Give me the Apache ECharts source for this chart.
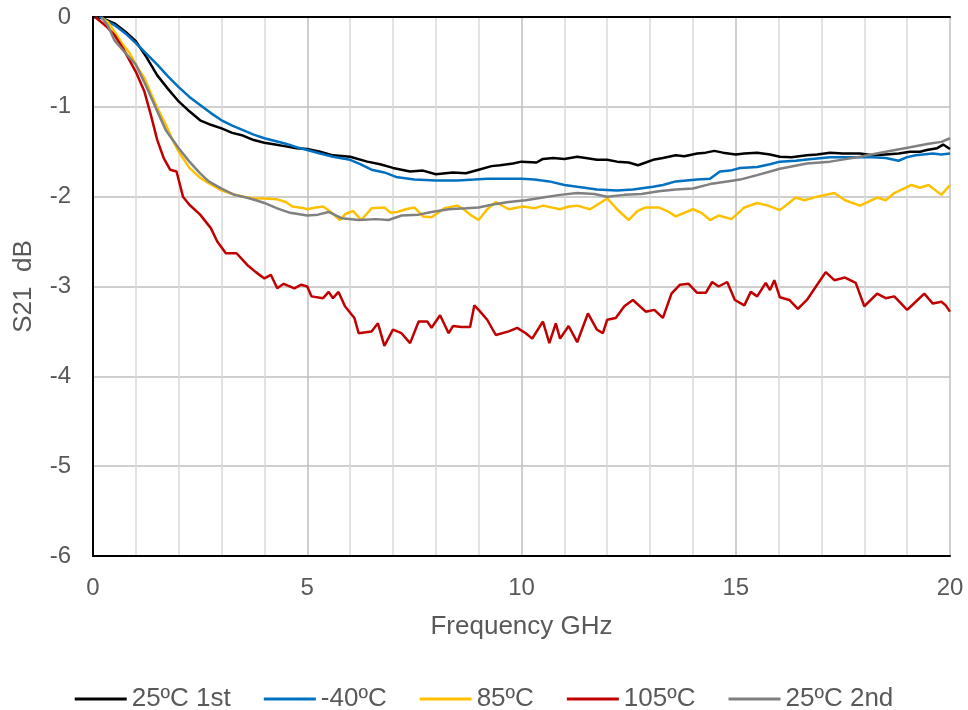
<!DOCTYPE html>
<html>
<head>
<meta charset="utf-8">
<script src="https://cdn.jsdelivr.net/npm/echarts@6/dist/echarts.min.js"></script>
<style>
  html, body { margin: 0; padding: 0; background: #fff; }
  #chart { width: 968px; height: 710px; }
</style>
</head>
<body>
<div id="chart"></div>
<script>
// S21 vs frequency, [GHz, dB] pairs
var names = ['25ºC 1st', '-40ºC', '85ºC', '105ºC', '25ºC 2nd'];
var colors = ['#000000', '#0070C0', '#FFC000', '#C00000', '#808080'];

var s25first = [[0,0],[0.2,-0.01],[0.5,-0.07],[0.75,-0.16],[1,-0.27],[1.25,-0.45],[1.5,-0.65],[1.75,-0.8],[2,-0.94],[2.25,-1.05],[2.5,-1.15],[2.75,-1.2],[3,-1.24],[3.25,-1.29],[3.5,-1.32],[3.75,-1.37],[4,-1.40],[4.25,-1.42],[4.5,-1.44],[4.75,-1.46],[5,-1.47],[5.3,-1.50],[5.6,-1.54],[6,-1.555],[6.4,-1.61],[6.7,-1.64],[7,-1.68],[7.4,-1.72],[7.7,-1.71],[8,-1.75],[8.4,-1.73],[8.7,-1.74],[9,-1.70],[9.3,-1.66],[9.5,-1.65],[9.8,-1.63],[10,-1.61],[10.35,-1.62],[10.5,-1.58],[10.74,-1.57],[11,-1.58],[11.3,-1.555],[11.5,-1.57],[11.76,-1.59],[12,-1.59],[12.23,-1.61],[12.5,-1.62],[12.72,-1.65],[12.9,-1.62],[13.07,-1.59],[13.3,-1.57],[13.6,-1.54],[13.8,-1.55],[14.1,-1.52],[14.3,-1.51],[14.5,-1.49],[14.7,-1.51],[15,-1.53],[15.2,-1.52],[15.5,-1.51],[15.8,-1.53],[16.03,-1.555],[16.3,-1.56],[16.66,-1.54],[16.9,-1.53],[17.2,-1.51],[17.5,-1.52],[17.9,-1.52],[18.2,-1.54],[18.5,-1.53],[18.8,-1.52],[19.07,-1.50],[19.3,-1.50],[19.46,-1.48],[19.7,-1.46],[19.84,-1.42],[20,-1.47]];

var sMinus40 = [[0.15,0],[0.5,-0.09],[0.75,-0.18],[1,-0.29],[1.25,-0.41],[1.5,-0.53],[1.75,-0.66],[2,-0.78],[2.25,-0.89],[2.5,-0.98],[2.75,-1.07],[3,-1.15],[3.25,-1.21],[3.5,-1.26],[3.75,-1.31],[4,-1.35],[4.25,-1.38],[4.5,-1.41],[4.75,-1.45],[5,-1.48],[5.3,-1.52],[5.6,-1.555],[6,-1.59],[6.25,-1.64],[6.5,-1.70],[6.8,-1.73],[7.07,-1.78],[7.5,-1.81],[8,-1.82],[8.5,-1.82],[8.9,-1.81],[9.2,-1.80],[9.5,-1.80],[10,-1.80],[10.3,-1.81],[10.65,-1.83],[11,-1.87],[11.3,-1.89],[11.76,-1.92],[12.23,-1.93],[12.6,-1.92],[13.07,-1.89],[13.3,-1.87],[13.6,-1.83],[14.1,-1.81],[14.4,-1.80],[14.63,-1.72],[14.87,-1.71],[15.1,-1.68],[15.5,-1.67],[15.8,-1.64],[16.03,-1.61],[16.4,-1.60],[16.66,-1.585],[17.2,-1.56],[17.6,-1.56],[17.9,-1.56],[18.2,-1.56],[18.5,-1.57],[18.8,-1.60],[19.0,-1.56],[19.2,-1.54],[19.6,-1.52],[19.8,-1.53],[20,-1.52]];

var s85 = [[0.2,-0.01],[0.35,-0.06],[0.5,-0.16],[0.7,-0.31],[0.85,-0.40],[1,-0.53],[1.2,-0.68],[1.35,-0.85],[1.5,-1.01],[1.7,-1.20],[1.85,-1.36],[2,-1.50],[2.25,-1.68],[2.5,-1.79],[2.7,-1.85],[3,-1.93],[3.25,-1.97],[3.5,-2.0],[3.75,-2.02],[4,-2.02],[4.3,-2.03],[4.5,-2.06],[4.65,-2.11],[4.93,-2.13],[5.0,-2.14],[5.2,-2.12],[5.37,-2.11],[5.55,-2.17],[5.76,-2.26],[5.9,-2.19],[6.07,-2.16],[6.26,-2.26],[6.5,-2.13],[6.8,-2.12],[6.95,-2.18],[7.1,-2.17],[7.3,-2.14],[7.5,-2.12],[7.7,-2.22],[7.9,-2.23],[8.2,-2.13],[8.5,-2.10],[8.65,-2.14],[8.8,-2.20],[9.0,-2.26],[9.2,-2.14],[9.4,-2.06],[9.7,-2.14],[10.04,-2.11],[10.3,-2.13],[10.5,-2.10],[10.9,-2.14],[11.1,-2.11],[11.3,-2.10],[11.6,-2.14],[12.0,-2.02],[12.23,-2.14],[12.5,-2.26],[12.7,-2.16],[12.9,-2.12],[13.2,-2.12],[13.4,-2.16],[13.6,-2.22],[14.0,-2.14],[14.2,-2.18],[14.4,-2.26],[14.6,-2.21],[14.9,-2.25],[15.2,-2.12],[15.5,-2.07],[15.75,-2.10],[16.03,-2.15],[16.4,-2.01],[16.6,-2.04],[16.9,-2.0],[17.3,-1.96],[17.55,-2.04],[17.9,-2.10],[18.3,-2.01],[18.5,-2.04],[18.7,-1.96],[19.1,-1.87],[19.3,-1.90],[19.5,-1.87],[19.8,-1.98],[20,-1.87]];

var s105 = [[0.05,0],[0.3,-0.1],[0.5,-0.2],[0.7,-0.35],[1,-0.61],[1.2,-0.83],[1.35,-1.09],[1.5,-1.37],[1.65,-1.57],[1.8,-1.70],[1.95,-1.72],[2.1,-2.0],[2.25,-2.09],[2.5,-2.20],[2.75,-2.35],[2.9,-2.50],[3.1,-2.63],[3.35,-2.63],[3.6,-2.76],[3.8,-2.84],[4.0,-2.91],[4.15,-2.87],[4.3,-3.02],[4.45,-2.97],[4.7,-3.02],[4.86,-2.98],[5.0,-3.0],[5.1,-3.11],[5.37,-3.13],[5.5,-3.06],[5.6,-3.13],[5.73,-3.06],[5.88,-3.22],[6.1,-3.35],[6.2,-3.52],[6.5,-3.50],[6.65,-3.41],[6.8,-3.66],[7.0,-3.48],[7.2,-3.52],[7.4,-3.63],[7.6,-3.39],[7.8,-3.39],[7.9,-3.46],[8.1,-3.32],[8.3,-3.52],[8.4,-3.44],[8.6,-3.45],[8.8,-3.45],[8.9,-3.21],[9.0,-3.26],[9.2,-3.37],[9.4,-3.54],[9.7,-3.50],[9.9,-3.46],[10.1,-3.52],[10.25,-3.58],[10.5,-3.39],[10.65,-3.63],[10.8,-3.41],[10.9,-3.58],[11.1,-3.44],[11.3,-3.62],[11.55,-3.30],[11.76,-3.48],[11.9,-3.52],[12.0,-3.37],[12.2,-3.35],[12.4,-3.22],[12.6,-3.15],[12.9,-3.28],[13.1,-3.26],[13.3,-3.35],[13.5,-3.08],[13.7,-2.98],[13.9,-2.97],[14.1,-3.07],[14.3,-3.07],[14.45,-2.95],[14.6,-3.0],[14.8,-2.95],[14.98,-3.15],[15.2,-3.21],[15.35,-3.06],[15.5,-3.11],[15.7,-2.96],[15.8,-3.04],[15.9,-2.93],[16.03,-3.12],[16.25,-3.15],[16.45,-3.25],[16.66,-3.15],[16.9,-2.98],[17.1,-2.84],[17.3,-2.93],[17.55,-2.90],[17.8,-2.96],[18.0,-3.22],[18.3,-3.08],[18.5,-3.13],[18.7,-3.11],[19.0,-3.26],[19.2,-3.17],[19.4,-3.08],[19.6,-3.19],[19.8,-3.17],[19.9,-3.21],[20,-3.28]];

var s25second = [[0.2,0],[0.35,-0.1],[0.5,-0.26],[0.7,-0.37],[1,-0.53],[1.25,-0.78],[1.5,-1.05],[1.7,-1.26],[2,-1.46],[2.25,-1.61],[2.5,-1.74],[2.7,-1.83],[3,-1.91],[3.3,-1.98],[3.5,-2.0],[3.8,-2.04],[4,-2.07],[4.3,-2.13],[4.6,-2.18],[5,-2.21],[5.25,-2.20],[5.5,-2.17],[5.8,-2.24],[6.2,-2.26],[6.6,-2.25],[6.9,-2.26],[7.2,-2.21],[7.6,-2.20],[7.9,-2.17],[8.3,-2.14],[8.7,-2.13],[9,-2.12],[9.3,-2.09],[9.7,-2.06],[10.1,-2.04],[10.5,-2.01],[10.9,-1.98],[11.3,-1.96],[11.7,-1.97],[12,-2.0],[12.4,-1.98],[12.8,-1.97],[13.2,-1.94],[13.6,-1.92],[14,-1.91],[14.4,-1.86],[14.8,-1.83],[15.1,-1.81],[15.5,-1.76],[16.03,-1.69],[16.66,-1.63],[17.2,-1.61],[17.9,-1.555],[18.5,-1.50],[19.07,-1.45],[19.5,-1.41],[19.8,-1.39],[20,-1.35]];

var allData = [s25first, sMinus40, s85, s105, s25second];

var chart = echarts.init(document.getElementById('chart'));
var font = 'Liberation Sans, Arial, sans-serif';
var textGrey = '#595959';

var series = allData.map(function (d, i) {
  return {
    name: names[i],
    type: 'line',
    data: d,
    showSymbol: false,
    symbol: 'none',
    z: 3,
    lineStyle: { color: colors[i], width: 2.5 },
    itemStyle: { color: colors[i] }
  };
});

// plain black frame line used for the top and right edges
var frameAxis = {
  axisLine: { show: true, lineStyle: { color: '#000', width: 2 } },
  axisTick: { show: false },
  axisLabel: { show: false },
  splitLine: { show: false }
};

chart.setOption({
  animation: false,
  backgroundColor: '#fff',
  grid: { left: 93, right: 18, top: 17, bottom: 154 },
  legend: {
    top: 681,
    left: 'center',
    icon: 'rect',
    itemWidth: 52,
    itemHeight: 3,
    itemGap: 33,
    textStyle: { fontFamily: font, fontSize: 26, color: textGrey },
    data: names
  },
  xAxis: [{
    type: 'value',
    min: 0, max: 20, interval: 5,
    name: 'Frequency GHz',
    nameLocation: 'middle',
    nameGap: 58,
    nameTextStyle: { fontFamily: font, fontSize: 26, color: textGrey },
    axisLine: { show: true, onZero: false, lineStyle: { color: '#000', width: 2 } },
    axisTick: { show: false },
    axisLabel: { fontFamily: font, fontSize: 24, color: textGrey, margin: 20 },
    splitLine: { show: true, lineStyle: { color: '#bfbfbf', width: 1.5 } },
    minorTick: { show: false, splitNumber: 5 },
    minorSplitLine: { show: true, lineStyle: { color: '#d9d9d9', width: 1.5 } }
  }, Object.assign({ type: 'value', min: 0, max: 20, position: 'top' }, frameAxis)],
  yAxis: [{
    type: 'value',
    min: -6, max: 0, interval: 1,
    name: 'S21  dB',
    nameLocation: 'middle',
    nameGap: 56,
    nameTextStyle: { fontFamily: font, fontSize: 26, color: textGrey },
    axisLine: { show: true, onZero: false, lineStyle: { color: '#000', width: 2 } },
    axisTick: { show: false },
    axisLabel: { fontFamily: font, fontSize: 24, color: textGrey, margin: 22 },
    splitLine: { show: true, lineStyle: { color: '#bfbfbf', width: 1.5 } }
  }, Object.assign({ type: 'value', min: -6, max: 0, position: 'right' }, frameAxis)],
  series: series
});
</script>
</body>
</html>
